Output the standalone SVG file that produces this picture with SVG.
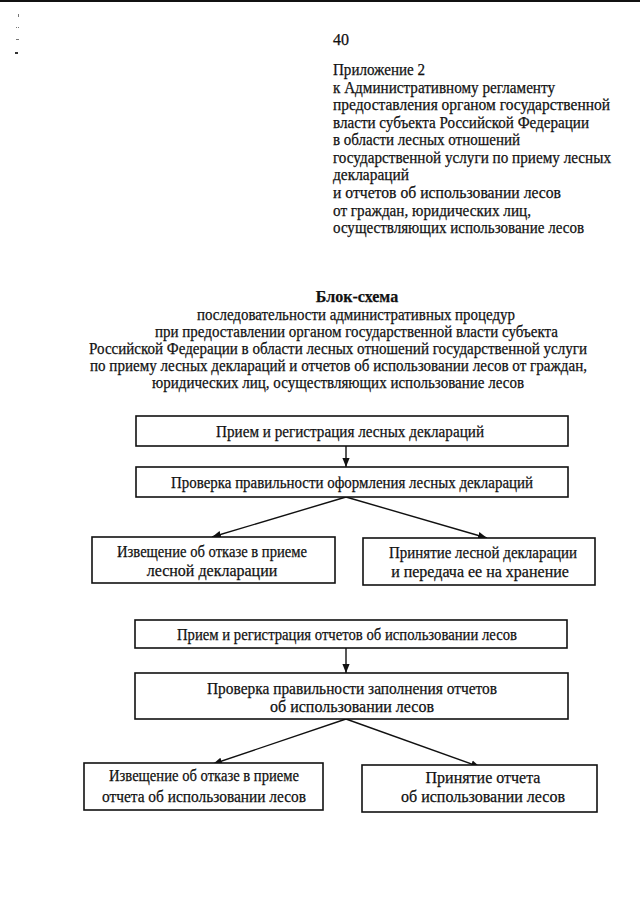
<svg xmlns="http://www.w3.org/2000/svg" width="640" height="905" viewBox="0 0 640 905">
<style>
  .t { font-family: "Liberation Serif", "Times New Roman", serif; font-size: 16px; fill: #111; stroke: #111; stroke-width: 0.25; }
  .c { text-anchor: middle; }
  .b { font-weight: bold; }
  .box { fill: #fff; stroke: #111; stroke-width: 1.6; }
  .conn { stroke: #111; stroke-width: 1.4; fill: none; marker-end: url(#ah); }
</style>
<defs>
  <marker id="ah" viewBox="0 0 10 10" refX="10" refY="5" markerWidth="9" markerHeight="9" markerUnits="userSpaceOnUse" orient="auto">
    <path d="M0,1 L10,5 L0,9 z" fill="#111"/>
  </marker>
</defs>
<rect x="0" y="0" width="640" height="905" fill="#fff"/>
<rect x="0" y="0" width="640" height="2" fill="#111"/>
<g id="scan-marks" fill="#777">
  <rect x="18" y="14" width="1" height="3"/>
  <rect x="16" y="27" width="1" height="1"/>
  <rect x="18" y="27" width="1" height="1"/>
  <rect x="16" y="39" width="3" height="1"/>
  <rect x="15" y="52" width="3" height="2" fill="#333"/>
</g>

<g id="header">
  <text class="t" x="333" y="45">40</text>
  <text class="t" x="333" y="75" textLength="92" lengthAdjust="spacingAndGlyphs">Приложение 2</text>
  <text class="t" x="333" y="93" textLength="222" lengthAdjust="spacingAndGlyphs">к Административному регламенту</text>
  <text class="t" x="333" y="110" textLength="277" lengthAdjust="spacingAndGlyphs">предоставления органом государственной</text>
  <text class="t" x="333" y="128" textLength="256" lengthAdjust="spacingAndGlyphs">власти субъекта Российской Федерации</text>
  <text class="t" x="333" y="145" textLength="187" lengthAdjust="spacingAndGlyphs">в области лесных отношений</text>
  <text class="t" x="333" y="163" textLength="278" lengthAdjust="spacingAndGlyphs">государственной услуги по приему лесных</text>
  <text class="t" x="333" y="180" textLength="76" lengthAdjust="spacingAndGlyphs">деклараций</text>
  <text class="t" x="333" y="198" textLength="228" lengthAdjust="spacingAndGlyphs">и отчетов об использовании лесов</text>
  <text class="t" x="333" y="216" textLength="198" lengthAdjust="spacingAndGlyphs">от граждан, юридических лиц,</text>
  <text class="t" x="333" y="233" textLength="251" lengthAdjust="spacingAndGlyphs">осуществляющих использование лесов</text>
</g>

<g id="title">
  <text class="t b c" x="357" y="302">Блок-схема</text>
  <text class="t" x="197" y="320" textLength="318" lengthAdjust="spacingAndGlyphs">последовательности административных процедур</text>
  <text class="t" x="155" y="337" textLength="403" lengthAdjust="spacingAndGlyphs">при предоставлении органом государственной власти субъекта</text>
  <text class="t" x="89" y="354" textLength="498" lengthAdjust="spacingAndGlyphs">Российской Федерации в области лесных отношений государственной услуги</text>
  <text class="t" x="90" y="371" textLength="497" lengthAdjust="spacingAndGlyphs">по приему лесных деклараций и отчетов об использовании лесов от граждан,</text>
  <text class="t" x="152" y="388" textLength="372" lengthAdjust="spacingAndGlyphs">юридических лиц, осуществляющих использование лесов</text>
</g>

<g id="connectors">
  <line class="conn" x1="346" y1="446" x2="346" y2="467"/>
  <line class="conn" x1="346" y1="497" x2="212" y2="537"/>
  <line class="conn" x1="346" y1="497" x2="487" y2="538"/>
  <line class="conn" x1="346" y1="648" x2="346" y2="673"/>
  <line class="conn" x1="346" y1="719" x2="213" y2="764"/>
  <line class="conn" x1="346" y1="719" x2="480" y2="767"/>
</g>

<g id="node-priem-deklaracij">
  <rect class="box" x="136" y="416" width="432" height="30"/>
  <text class="t c" x="350" y="437" textLength="268" lengthAdjust="spacingAndGlyphs">Прием и регистрация лесных деклараций</text>
</g>
<g id="node-proverka-deklaracij">
  <rect class="box" x="136" y="467" width="432" height="30"/>
  <text class="t c" x="352" y="488" textLength="362" lengthAdjust="spacingAndGlyphs">Проверка правильности оформления лесных деклараций</text>
</g>
<g id="node-otkaz-deklaracii">
  <rect class="box" x="92" y="537" width="243" height="46"/>
  <text class="t c" x="212" y="557" textLength="190" lengthAdjust="spacingAndGlyphs">Извещение об отказе в приеме</text>
  <text class="t c" x="212" y="576">лесной декларации</text>
</g>
<g id="node-prinyatie-deklaracii">
  <rect class="box" x="363" y="538" width="232" height="47"/>
  <text class="t c" x="483" y="558" textLength="188" lengthAdjust="spacingAndGlyphs">Принятие лесной декларации</text>
  <text class="t c" x="480" y="577">и передача ее на хранение</text>
</g>

<g id="node-priem-otchetov">
  <rect class="box" x="135" y="620" width="432" height="28"/>
  <text class="t c" x="347" y="640" textLength="340" lengthAdjust="spacingAndGlyphs">Прием и регистрация отчетов об использовании лесов</text>
</g>
<g id="node-proverka-otchetov">
  <rect class="box" x="135" y="673" width="433" height="46"/>
  <text class="t c" x="352" y="694" textLength="290" lengthAdjust="spacingAndGlyphs">Проверка правильности заполнения отчетов</text>
  <text class="t c" x="352" y="712">об использовании лесов</text>
</g>
<g id="node-otkaz-otcheta">
  <rect class="box" x="84" y="763" width="239" height="47"/>
  <text class="t c" x="204" y="781" textLength="190" lengthAdjust="spacingAndGlyphs">Извещение об отказе в приеме</text>
  <text class="t c" x="204" y="802" textLength="204" lengthAdjust="spacingAndGlyphs">отчета об использовании лесов</text>
</g>
<g id="node-prinyatie-otcheta">
  <rect class="box" x="362" y="765" width="235" height="47"/>
  <text class="t c" x="483" y="783">Принятие отчета</text>
  <text class="t c" x="483" y="802">об использовании лесов</text>
</g>
</svg>
